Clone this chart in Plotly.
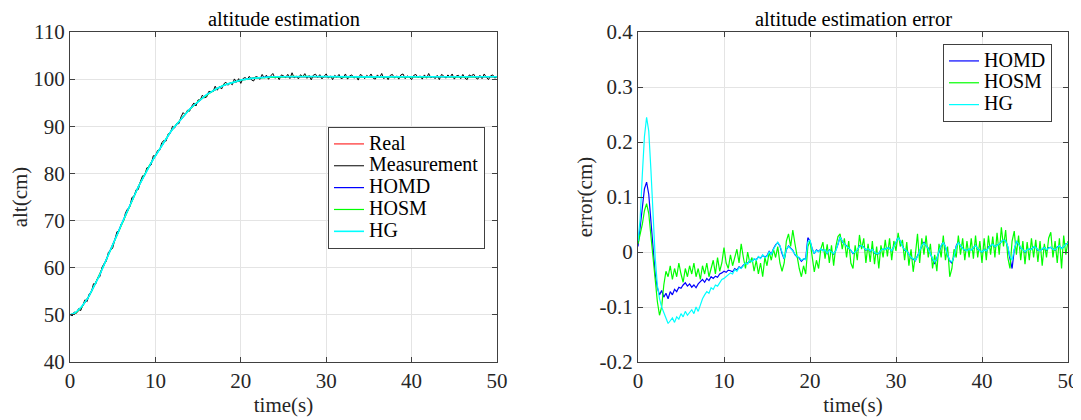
import numpy as np
import plotly.graph_objects as go

DT = 0.25  # sample step (s); each row below holds one second (4 samples)

# Real altitude (cm)
real_alt = [
    50.0, 50.05, 50.2, 50.45,      # 0
    50.8, 51.3, 51.95, 52.6,       # 1
    53.3, 54.15, 55.0, 55.9,       # 2
    56.8, 57.75, 58.7, 59.7,       # 3
    60.7, 61.75, 62.8, 63.85,      # 4
    64.9, 65.95, 67.05, 68.1,      # 5
    69.2, 70.25, 71.25, 72.3,      # 6
    73.3, 74.3, 75.25, 76.25,      # 7
    77.2, 78.1, 79.0, 79.9,        # 8
    80.8, 81.55, 82.3, 83.05,      # 9
    83.8, 84.55, 85.3, 86.05,      # 10
    86.8, 87.45, 88.1, 88.75,      # 11
    89.4, 89.95, 90.5, 91.05,      # 12
    91.6, 92.1, 92.6, 93.1,        # 13
    93.6, 94.05, 94.45, 94.9,      # 14
    95.3, 95.65, 96.0, 96.35,      # 15
    96.7, 97.0, 97.25, 97.55,      # 16
    97.8, 98.05, 98.25, 98.5,      # 17
    98.7, 98.85, 99.0, 99.15,      # 18
    99.3, 99.45, 99.55, 99.7,      # 19
    99.8, 99.9, 99.95, 100.05,     # 20
    100.1, 100.15, 100.2, 100.25,  # 21
    100.3, 100.35, 100.4, 100.42,  # 22
    100.45, 100.47, 100.48, 100.5, # 23
    100.5, 100.5, 100.5, 100.5,    # 24
    100.5, 100.5, 100.52, 100.52,  # 25
    100.55, 100.55, 100.55, 100.55,  # 26
    100.55, 100.57, 100.57, 100.57,  # 27
    100.57, 100.55, 100.55, 100.55,  # 28
    100.55, 100.55, 100.55, 100.52,  # 29
    100.52, 100.5, 100.5, 100.5,   # 30
    100.5, 100.5, 100.5, 100.5,    # 31
    100.5, 100.5, 100.5, 100.5,    # 32
    100.5, 100.5, 100.5, 100.5,    # 33
    100.5, 100.5, 100.5, 100.5,    # 34
    100.5, 100.5, 100.5, 100.5,    # 35
    100.5, 100.5, 100.5, 100.5,    # 36
    100.5, 100.5, 100.5, 100.5,    # 37
    100.5, 100.5, 100.5, 100.5,    # 38
    100.5, 100.5, 100.5, 100.5,    # 39
    100.5, 100.5, 100.5, 100.5,    # 40
    100.5, 100.5, 100.5, 100.5,    # 41
    100.5, 100.5, 100.5, 100.5,    # 42
    100.5, 100.5, 100.5, 100.5,    # 43
    100.5, 100.5, 100.5, 100.5,    # 44
    100.5, 100.5, 100.5, 100.5,    # 45
    100.5, 100.5, 100.5, 100.5,    # 46
    100.5, 100.5, 100.5, 100.5,    # 47
    100.5, 100.5, 100.5, 100.5,    # 48
    100.5, 100.5, 100.5, 100.5,    # 49
    100.5,                         # 50
]

# Measurement deviation from the real altitude (cm)
meas_dev = [
    0.2, -0.3, 0.4, -0.1,     # 0
    0.5, -0.4, 0.1, 0.6,      # 1
    -0.5, 0.3, -0.2, 0.7,     # 2
    -0.3, 0.1, -0.6, 0.4,     # 3
    0.2, -0.4, 0.5, -0.2,     # 4
    -0.7, 0.3, 0.6, -0.3,     # 5
    0.1, -0.5, 0.4, 0.2,      # 6
    -0.4, 0.6, -0.1, 0.3,     # 7
    -0.6, 0.2, 0.5, -0.3,     # 8
    0.4, -0.2, -0.5, 0.7,     # 9
    -0.1, 0.3, -0.4, 0.5,     # 10
    0.2, -0.6, 0.3, -0.2,     # 11
    0.6, -0.3, 0.1, -0.5,     # 12
    0.4, 0.8, -0.2, 0.3,      # 13
    -0.4, 0.2, 0.5, -0.6,     # 14
    0.3, -0.1, 0.6, -0.3,     # 15
    -0.5, 0.4, 0.1, -0.2,     # 16
    0.7, -0.4, 0.2, -0.6,     # 17
    0.3, 0.5, -0.3, 0.1,      # 18
    -0.5, 0.6, -0.2, 0.4,     # 19
    -0.7, 0.2, 0.4, -0.1,     # 20
    0.5, -0.3, -0.6, 0.3,     # 21
    0.1, -0.4, 0.6, -0.2,     # 22
    0.4, -0.5, 0.2, 0.7,      # 23
    -0.3, 0.1, -0.6, 0.4,     # 24
    0.2, -0.2, 0.5, -0.4,     # 25
    0.8, -0.3, 0.1, -0.5,     # 26
    0.4, -0.1, 0.6, -0.4,     # 27
    0.2, -0.7, 0.3, 0.5,      # 28
    -0.2, 0.4, -0.5, 0.1,     # 29
    0.6, -0.3, 0.2, -0.6,     # 30
    0.3, -0.1, 0.5, -0.4,     # 31
    -0.2, 0.6, -0.5, 0.2,     # 32
    0.4, -0.3, 0.1, -0.7,     # 33
    0.5, 0.2, -0.4, 0.3,      # 34
    -0.1, 0.6, -0.3, -0.5,    # 35
    0.4, -0.2, 0.7, -0.4,     # 36
    0.1, -0.6, 0.3, 0.5,      # 37
    -0.3, 0.2, -0.5, 0.4,     # 38
    0.6, -0.4, 0.2, -0.1,     # 39
    -0.6, 0.3, 0.5, -0.2,     # 40
    0.2, -0.5, 0.4, -0.3,     # 41
    0.7, -0.2, 0.1, -0.4,     # 42
    0.3, -0.6, 0.5, 0.2,      # 43
    -0.3, 0.4, -0.1, 0.6,     # 44
    -0.5, 0.2, 0.3, -0.4,     # 45
    0.5, -0.3, -0.6, 0.4,     # 46
    0.1, 0.6, -0.2, -0.5,     # 47
    0.3, -0.4, 0.6, -0.1,     # 48
    -0.6, 0.2, 0.4, -0.3,     # 49
    0.1,                      # 50
]

# Estimation errors (cm)
err_homd = [
    0.01, 0.04, 0.08, 0.115,        # 0
    0.127, 0.105, 0.06, 0.01,       # 1
    -0.04, -0.065, -0.078, -0.07,   # 2
    -0.082, -0.075, -0.085, -0.072, # 3
    -0.078, -0.068, -0.072, -0.064, # 4
    -0.066, -0.06, -0.056, -0.062,  # 5
    -0.058, -0.064, -0.06, -0.065,  # 6
    -0.058, -0.054, -0.05, -0.055,  # 7
    -0.048, -0.052, -0.045, -0.048, # 8
    -0.044, -0.046, -0.04, -0.038,  # 9
    -0.035, -0.037, -0.033, -0.034, # 10
    -0.036, -0.03, -0.033, -0.027,  # 11
    -0.029, -0.024, -0.021, -0.02,  # 12
    -0.016, -0.017, -0.013, -0.014, # 13
    -0.009, -0.011, -0.006, -0.009, # 14
    -0.007, 0.001, -0.004, 0.006,   # 15
    0.013, 0.017, 0.011, -0.003,    # 16
    -0.013, 0.004, 0.011, 0.007,    # 17
    0.003, -0.005, -0.009, -0.011,  # 18
    -0.017, -0.013, -0.012, 0.026,  # 19
    0.02, 0.006, -0.003, 0.004,     # 20
    0.001, 0.005, 0.003, 0.003,     # 21
    -0.003, 0.004, 0.001, -0.004,   # 22
    0.003, 0.014, 0.028, 0.019,     # 23
    0.014, 0.011, 0.007, 0.003,     # 24
    -0.003, 0.001, 0.003, 0.011,    # 25
    0.011, 0.009, 0.003, 0.007,     # 26
    0.001, 0.006, -0.002, -0.004,   # 27
    -0.003, 0.004, 0.005, 0.005,    # 28
    0.007, 0.007, 0.001, 0.011,     # 29
    0.017, 0.028, 0.019, 0.011,     # 30
    0.003, 0.003, -0.005, -0.011,   # 31
    -0.013, -0.016, -0.007, 0.003,  # 32
    0.011, 0.018, 0.011, 0.007,     # 33
    -0.005, -0.013, -0.022, -0.011, # 34
    0.003, 0.011, 0.019, 0.009,     # 35
    -0.006, -0.016, -0.02, -0.007,  # 36
    0.011, 0.019, 0.011, 0.007,     # 37
    0.003, 0.003, 0.005, 0.004,     # 38
    0.007, 0.013, 0.005, 0.003,     # 39
    -0.001, 0.005, 0.001, 0.009,    # 40
    0.011, 0.015, 0.009, 0.013,     # 41
    0.014, 0.019, 0.021, 0.021,     # 42
    0.009, -0.012, -0.03, 0.004,    # 43
    0.019, 0.016, 0.007, 0.005,     # 44
    -0.001, 0.005, 0.005, 0.005,    # 45
    0.009, 0.009, 0.003, 0.003,     # 46
    0.005, 0.009, 0.003, 0.008,     # 47
    0.008, 0.006, 0.003, 0.009,     # 48
    0.011, 0.007, 0.009, 0.015,     # 49
    0.015,                          # 50
]

err_hosm = [
    0.015, 0.03, 0.05, 0.075,       # 0
    0.088, 0.07, 0.035, -0.01,      # 1
    -0.05, -0.09, -0.115, -0.1,     # 2
    -0.06, -0.035, -0.045, -0.025,  # 3
    -0.05, -0.03, -0.045, -0.02,    # 4
    -0.04, -0.055, -0.03, -0.045,   # 5
    -0.025, -0.04, -0.02, -0.045,   # 6
    -0.03, -0.05, -0.025, -0.04,    # 7
    -0.02, -0.045, -0.03, -0.015,   # 8
    -0.04, -0.01, -0.035, -0.02,    # 9
    0.008, -0.02, -0.03, -0.005,    # 10
    -0.025, -0.01, 0.005, -0.02,    # 11
    0.015, -0.01, -0.03, 0.0,       # 12
    -0.02, -0.01, -0.035, -0.015,   # 13
    -0.04, -0.02, -0.045, -0.01,    # 14
    -0.025, 0.0, -0.015, 0.005,     # 15
    -0.01, 0.01, -0.02, -0.035,     # 16
    -0.02, 0.02, 0.033, 0.01,       # 17
    0.04, 0.015, -0.01, -0.03,      # 18
    -0.045, -0.025, -0.04, 0.01,    # 19
    0.02, -0.01, -0.036, -0.015,    # 20
    -0.03, 0.005, 0.018, -0.012,    # 21
    0.014, -0.02, 0.012, -0.025,    # 22
    0.01, 0.028, 0.033, 0.005,      # 23
    0.025, -0.01, 0.02, -0.02,      # 24
    -0.03, 0.012, -0.015, 0.031,    # 25
    0.005, 0.025, -0.02, 0.015,     # 26
    -0.018, 0.02, -0.022, 0.01,     # 27
    -0.03, 0.012, -0.01, 0.022,     # 28
    -0.008, 0.025, -0.015, 0.02,    # 29
    0.002, 0.035, 0.01, 0.022,      # 30
    -0.015, 0.018, -0.025, 0.005,   # 31
    -0.036, -0.005, 0.033, -0.02,   # 32
    0.025, -0.005, 0.03, -0.01,     # 33
    0.015, -0.03, -0.005, -0.035,   # 34
    0.015, -0.01, 0.03, -0.015,     # 35
    0.01, -0.045, -0.03, 0.005,     # 36
    -0.01, 0.03, -0.005, 0.025,     # 37
    -0.015, 0.02, -0.01, 0.025,     # 38
    -0.012, 0.03, -0.01, 0.02,      # 39
    -0.02, 0.025, -0.015, 0.03,     # 40
    -0.005, 0.028, -0.01, 0.035,    # 41
    -0.005, 0.045, 0.01, 0.04,      # 42
    -0.01, -0.03, 0.02, 0.038,      # 43
    -0.005, 0.03, -0.015, 0.02,     # 44
    -0.022, 0.018, -0.015, 0.025,   # 45
    -0.01, 0.022, -0.018, 0.02,     # 46
    -0.025, 0.015, -0.01, 0.025,    # 47
    0.036, -0.01, 0.02, -0.02,      # 48
    0.025, -0.03, 0.03, -0.005,     # 49
    0.02,                           # 50
]

err_hg = [
    0.02, 0.06, 0.14, 0.21,         # 0
    0.245, 0.22, 0.15, 0.06,        # 1
    -0.01, -0.06, -0.085, -0.10,    # 2
    -0.11, -0.12, -0.13, -0.125,    # 3
    -0.12, -0.128, -0.118, -0.122,  # 4
    -0.112, -0.118, -0.108, -0.115, # 5
    -0.11, -0.105, -0.112, -0.10,   # 6
    -0.108, -0.095, -0.085, -0.078, # 7
    -0.072, -0.075, -0.065, -0.068, # 8
    -0.06, -0.062, -0.055, -0.05,   # 9
    -0.048, -0.045, -0.042, -0.038, # 10
    -0.04, -0.032, -0.035, -0.028,  # 11
    -0.03, -0.025, -0.02, -0.022,   # 12
    -0.015, -0.018, -0.012, -0.015, # 13
    -0.008, -0.012, -0.005, -0.01,  # 14
    -0.008, 0.0, -0.005, 0.005,     # 15
    0.012, 0.018, 0.012, -0.002,    # 16
    -0.012, 0.005, 0.01, 0.006,     # 17
    0.002, -0.004, -0.008, -0.01,   # 18
    -0.015, -0.012, -0.014, 0.018,  # 19
    0.022, 0.005, -0.002, 0.003,    # 20
    0.0, 0.006, 0.002, 0.004,       # 21
    -0.002, 0.003, 0.0, -0.003,     # 22
    0.002, 0.015, 0.027, 0.02,      # 23
    0.015, 0.01, 0.008, 0.002,      # 24
    -0.002, 0.0, 0.004, 0.01,       # 25
    0.012, 0.008, 0.004, 0.006,     # 26
    0.002, 0.005, -0.001, -0.003,   # 27
    -0.002, 0.003, 0.006, 0.004,    # 28
    0.008, 0.006, 0.002, 0.01,      # 29
    0.018, 0.026, 0.02, 0.01,       # 30
    0.004, 0.002, -0.004, -0.01,    # 31
    -0.012, -0.015, -0.008, 0.002,  # 32
    0.012, 0.016, 0.012, 0.006,     # 33
    -0.004, -0.012, -0.018, -0.012, # 34
    0.002, 0.012, 0.017, 0.01,      # 35
    -0.005, -0.015, -0.018, -0.008, # 36
    0.01, 0.017, 0.012, 0.006,      # 37
    0.004, 0.002, 0.006, 0.003,     # 38
    0.008, 0.012, 0.006, 0.002,     # 39
    0.0, 0.004, 0.002, 0.008,       # 40
    0.012, 0.014, 0.01, 0.012,      # 41
    0.015, 0.018, 0.022, 0.02,      # 42
    0.01, -0.008, -0.015, 0.005,    # 43
    0.02, 0.015, 0.008, 0.004,      # 44
    0.0, 0.004, 0.006, 0.004,       # 45
    0.01, 0.008, 0.004, 0.002,      # 46
    0.006, 0.008, 0.004, 0.007,     # 47
    0.009, 0.005, 0.004, 0.008,     # 48
    0.012, 0.006, 0.01, 0.014,      # 49
    0.016,                          # 50
]

x_ticks = [0, 10, 20, 30, 40, 50]
alt_ticks = [40, 50, 60, 70, 80, 90, 100, 110]
err_ticks = [-0.2, -0.1, 0, 0.1, 0.2, 0.3, 0.4]
err_tick_text = ["-0.2", "-0.1", "0", "0.1", "0.2", "0.3", "0.4"]

# ---------------------------------------------------------------
lens = [len(a) for a in (real_alt, meas_dev, err_homd, err_hosm, err_hg)]
assert len(set(lens)) == 1, f"length mismatch: {lens}"
n = lens[0]
t = np.arange(n) * DT
real = np.array(real_alt)
meas = real + np.array(meas_dev)
homd_e = np.array(err_homd)
hosm_e = np.array(err_hosm)
hg_e = np.array(err_hg)

FONT = "Liberation Serif"
RED, BLACK, BLUE, GREEN, CYAN = "#ff0000", "#000000", "#0000ff", "#00ff00", "#00ffff"


def lg(name):
    return f'<span style="font-size:20px">{name}</span>'


fig = go.Figure()
left = [
    ("Real", real, RED, 1.0),
    ("Measurement", meas, BLACK, 1.0),
    ("HOMD", real + homd_e, BLUE, 1.2),
    ("HOSM", real + hosm_e, GREEN, 1.2),
    ("HG", real + hg_e, CYAN, 1.6),
]
for name, y, c, w in left:
    fig.add_trace(go.Scatter(x=t, y=y, mode="lines", name=lg(name),
                             line=dict(color=c, width=w),
                             xaxis="x", yaxis="y", legend="legend"))
right = [("HOMD", homd_e, BLUE), ("HOSM", hosm_e, GREEN), ("HG", hg_e, CYAN)]
for name, y, c in right:
    fig.add_trace(go.Scatter(x=t, y=y, mode="lines", name=lg(name),
                             line=dict(color=c, width=1.2),
                             xaxis="x2", yaxis="y2", legend="legend2"))

AX = "#404040"
common = dict(showline=True, linecolor=AX, linewidth=1, mirror="ticks",
              ticks="inside", ticklen=5, tickcolor=AX, tickwidth=1,
              showgrid=True, gridcolor="#e4e4e4", gridwidth=1, zeroline=False,
              automargin=False,
              tickfont=dict(family=FONT, size=21, color="#262626"))
title_font = dict(family=FONT, size=21, color="#262626")

# The page body adds an 8 px offset, so the figure is laid out 8 px up/left.
W, H = 1073, 412
ml, mr, mt, mb = 62, 13, 24, 58
pw = W - ml - mr
ph = H - mt - mb
d1 = [0, (489 - ml) / pw]
d2 = [(630 - ml) / pw, 1]

leg_common = dict(xanchor="left", yanchor="top", bgcolor="white",
                  bordercolor=AX, borderwidth=1,
                  font=dict(family=FONT, size=14.5, color="#000000"),
                  tracegroupgap=0, itemwidth=30)

fig.update_layout(
    template="none",
    width=W, height=H, autosize=False,
    margin=dict(l=ml, r=mr, t=mt, b=mb),
    plot_bgcolor="white", paper_bgcolor="white",
    font=dict(family=FONT, size=21, color="#262626"),
    xaxis=dict(domain=d1, range=[0, 50], tickvals=x_ticks, anchor="y",
               title=dict(text="time(s)", font=title_font, standoff=5), **common),
    yaxis=dict(domain=[0, 1], range=[40, 110], tickvals=alt_ticks, anchor="x",
               title=dict(text="alt(cm)", font=title_font, standoff=1), **common),
    xaxis2=dict(domain=d2, range=[0, 50], tickvals=x_ticks, anchor="y2",
                title=dict(text="time(s)", font=title_font, standoff=5), **common),
    yaxis2=dict(domain=[0, 1], range=[-0.2, 0.4], tickvals=err_ticks,
                ticktext=err_tick_text, anchor="x2",
                title=dict(text="error(cm)", font=title_font, standoff=1), **common),
    legend=dict(x=(320 - ml) / pw, y=(H - mb - 119) / ph, **leg_common),
    legend2=dict(x=(935 - ml) / pw, y=(H - mb - 36) / ph, **leg_common),
    showlegend=True,
    annotations=[
        dict(text="altitude estimation", x=sum(d1) / 2, y=1, xref="paper", yref="paper",
             xanchor="center", yanchor="bottom", yshift=0, showarrow=False,
             font=dict(family=FONT, size=20.5, color="#000000")),
        dict(text="altitude estimation error", x=sum(d2) / 2, y=1, xref="paper", yref="paper",
             xanchor="center", yanchor="bottom", yshift=0, showarrow=False,
             font=dict(family=FONT, size=20.5, color="#000000")),
    ],
)

fig.write_html("out.html")
